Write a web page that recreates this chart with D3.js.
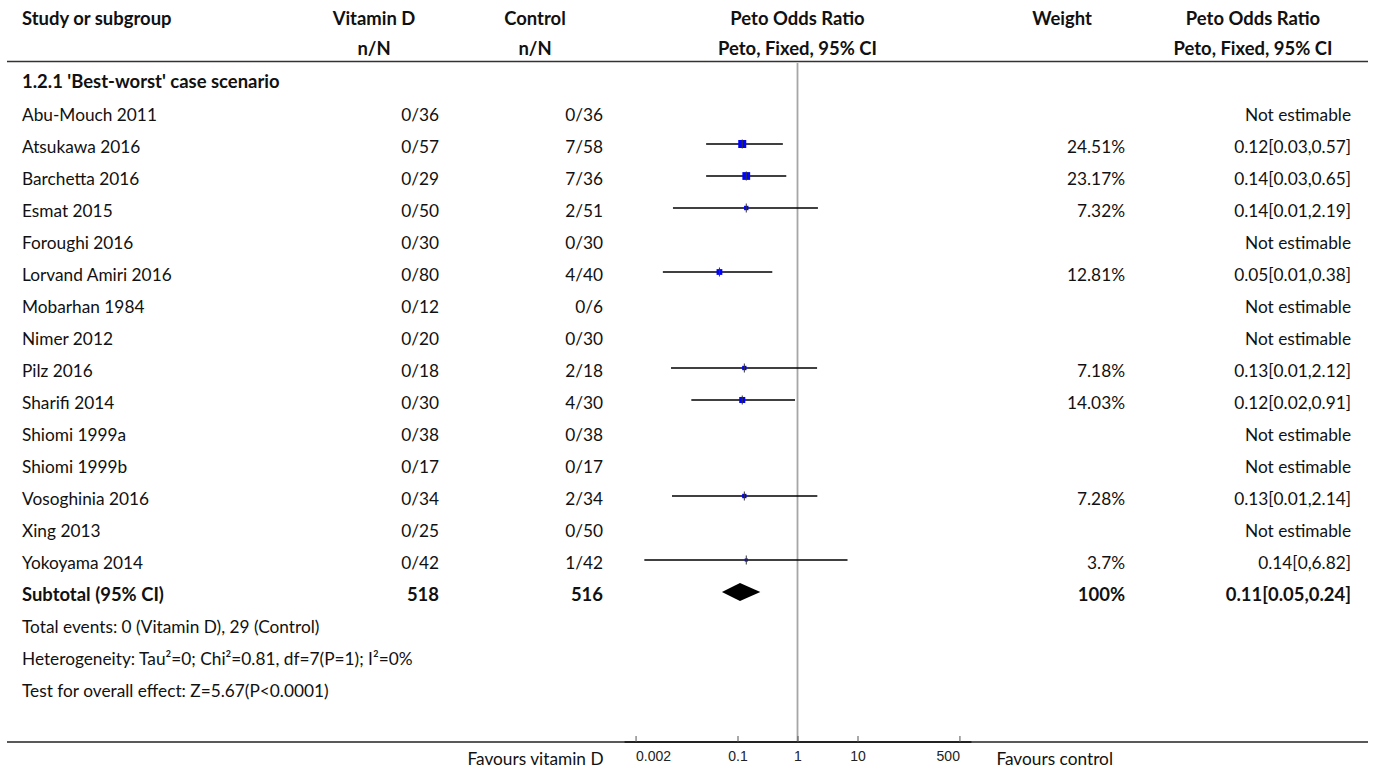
<!DOCTYPE html>
<html>
<head>
<meta charset="utf-8">
<script src="https://cdn.jsdelivr.net/npm/d3@7"></script>
<style>
  html, body { margin: 0; padding: 0; background: #fff; }
  svg { display: block; }
  text { font-family: Lato, "Noto Sans", sans-serif; fill: #111; }
</style>
</head>
<body>
<svg id="chart" width="1375" height="769"></svg>
<script>
// ---------------- DATA ----------------
const subgroupTitle = "1.2.1 'Best-worst' case scenario";
const studies = ["Abu-Mouch 2011","Atsukawa 2016","Barchetta 2016","Esmat 2015","Foroughi 2016",
  "Lorvand Amiri 2016","Mobarhan 1984","Nimer 2012","Pilz 2016","Sharifi 2014","Shiomi 1999a",
  "Shiomi 1999b","Vosoghinia 2016","Xing 2013","Yokoyama 2014"];
const vitaminD = ["0/36","0/57","0/29","0/50","0/30","0/80","0/12","0/20","0/18","0/30","0/38","0/17","0/34","0/25","0/42"];
const control  = ["0/36","7/58","7/36","2/51","0/30","4/40","0/6","0/30","2/18","4/30","0/38","0/17","2/34","0/50","1/42"];
const weights  = [null,24.51,23.17,7.32,null,12.81,null,null,7.18,14.03,null,null,7.28,null,3.7];
const oddsRatio = [null,0.12,0.14,0.14,null,0.05,null,null,0.13,0.12,null,null,0.13,null,0.14];
const ciLower   = [null,0.03,0.03,0.0084,null,0.0057,null,null,0.0078,0.017,null,null,0.0081,null,0.0028];
const ciUpper   = [null,0.57,0.65,2.19,null,0.38,null,null,2.12,0.91,null,null,2.14,null,6.82];
const effectLabels = ["Not estimable","0.12[0.03,0.57]","0.14[0.03,0.65]","0.14[0.01,2.19]","Not estimable",
  "0.05[0.01,0.38]","Not estimable","Not estimable","0.13[0.01,2.12]","0.12[0.02,0.91]","Not estimable",
  "Not estimable","0.13[0.01,2.14]","Not estimable","0.14[0,6.82]"];
const weightLabels = ["","24.51%","23.17%","7.32%","","12.81%","","","7.18%","14.03%","","","7.28%","","3.7%"];
const subtotal = ["Subtotal (95% CI)","518","516","100%","0.11[0.05,0.24]"];
const pooledCI = [0.055, 0.11, 0.24];   // lower, estimate, upper
const footnotes = ["Total events: 0 (Vitamin D), 29 (Control)",
  "Heterogeneity: Tau\u00B2=0; Chi\u00B2=0.81, df=7(P=1); I\u00B2=0%",
  "Test for overall effect: Z=5.67(P<0.0001)"];
const tickValues = [0.002, 0.1, 1, 10, 500];
const tickLabels = ["0.002","0.1","1","10","500"];
const axisDomain = [0.002, 500];
const favours = ["Favours vitamin D","Favours control"];

// ---------------- LAYOUT ----------------
const svg = d3.select("#chart");
const lineL = 7, lineR = 1368;
const col = { study: 22, vitCenter: 374, vitRight: 439, ctlCenter: 535, ctlRight: 603,
              plotCenter: 797.5, wCenter: 1062, wRight: 1125, orCenter: 1253, orRight: 1351 };
const decadePx = 60;
const half = decadePx * Math.log10(axisDomain[1]);
const x = d3.scaleLog().domain(axisDomain).range([col.plotCenter - half, col.plotCenter + half]);
const row0 = 112, rowH = 32;
const yRow = i => row0 + rowH * i;
const base = 8.5;
const sq = d3.scaleSqrt().domain([0, d3.max(weights)]).range([0, 8]);

// fit font sizes so text widths follow the reference
function measure(s, weight, size) {
  const t = svg.append("text").text(s).style("font-size", size + "px").style("font-weight", weight);
  const w = t.node().getComputedTextLength();
  t.remove();
  return w;
}
const regSize = Math.min(18, Math.max(14, 100 * 391 / measure(footnotes[1], 400, 100)));
const boldSize = Math.min(19, Math.max(14, 100 * 142 / measure(subtotal[0], 700, 100)));

function txt(xp, yp, s, anchor, bold) {
  return svg.append("text").attr("x", xp).attr("y", yp).text(s)
    .attr("text-anchor", anchor || "start")
    .style("font-size", (bold ? boldSize : regSize) + "px")
    .style("font-weight", bold ? "700" : "400");
}

// header
txt(col.study, 25, "Study or subgroup", "start", true);
txt(col.vitCenter, 25, "Vitamin D", "middle", true);
txt(col.vitCenter, 55, "n/N", "middle", true);
txt(col.ctlCenter, 25, "Control", "middle", true);
txt(col.ctlCenter, 55, "n/N", "middle", true);
txt(col.plotCenter, 25, "Peto Odds Ratio", "middle", true);
txt(col.plotCenter, 55, "Peto, Fixed, 95% CI", "middle", true);
txt(col.wCenter, 25, "Weight", "middle", true);
txt(col.orCenter, 25, "Peto Odds Ratio", "middle", true);
txt(col.orCenter, 55, "Peto, Fixed, 95% CI", "middle", true);

svg.append("line").attr("x1", lineL).attr("x2", lineR).attr("y1", 61.5).attr("y2", 61.5)
  .attr("stroke", "#333").attr("stroke-width", 1.6);

// reference line at OR = 1
svg.append("line").attr("x1", x(1)).attr("x2", x(1)).attr("y1", 63).attr("y2", 742)
  .attr("stroke", "#a6a6a6").attr("stroke-width", 1.8);

// subgroup title
txt(col.study, row0 - rowH + base - 1, subgroupTitle, "start", true);

// study rows
studies.forEach((s, i) => {
  const y = yRow(i);
  txt(col.study, y + base, s);
  txt(col.vitRight, y + base, vitaminD[i], "end");
  txt(col.ctlRight, y + base, control[i], "end");
  if (weightLabels[i]) txt(col.wRight, y + base, weightLabels[i], "end");
  txt(col.orRight, y + base, effectLabels[i], "end");
});

// CI lines and squares
const marks = svg.append("g");
studies.forEach((s, i) => {
  if (oddsRatio[i] == null) return;
  const y = yRow(i);
  marks.append("line").attr("x1", x(ciLower[i])).attr("x2", x(ciUpper[i]))
    .attr("y1", y).attr("y2", y).attr("stroke", "#000").attr("stroke-width", 1.3);
  const d = sq(weights[i]);
  marks.append("rect").attr("x", x(oddsRatio[i]) - d / 2).attr("y", y - d / 2)
    .attr("width", d).attr("height", d).attr("fill", "#0000ff");
  marks.append("line").attr("x1", x(oddsRatio[i])).attr("x2", x(oddsRatio[i]))
    .attr("y1", y - 4.5).attr("y2", y + 4.5).attr("stroke", "#333").attr("stroke-width", 1);
});

// subtotal
const ySub = yRow(studies.length);
txt(col.study, ySub + base, subtotal[0], "start", true);
txt(col.vitRight, ySub + base, subtotal[1], "end", true);
txt(col.ctlRight, ySub + base, subtotal[2], "end", true);
txt(col.wRight, ySub + base, subtotal[3], "end", true);
txt(col.orRight, ySub + base, subtotal[4], "end", true);
const dh = 9;
svg.append("path")
  .attr("d", `M${x(pooledCI[0])},${ySub} L${x(pooledCI[1])},${ySub - dh} L${x(pooledCI[2])},${ySub} L${x(pooledCI[1])},${ySub + dh} Z`)
  .attr("fill", "#000");

// footnotes
footnotes.forEach((f, k) => txt(col.study, yRow(studies.length + 1 + k) + base, f));

// bottom line and axis
const axisY = 742;
svg.append("line").attr("x1", lineL).attr("x2", lineR).attr("y1", axisY).attr("y2", axisY)
  .attr("stroke", "#222").attr("stroke-width", 1.4);
svg.append("line").attr("x1", x(axisDomain[0]) - 11).attr("x2", x(axisDomain[1]) + 12)
  .attr("y1", axisY).attr("y2", axisY).attr("stroke", "#222").attr("stroke-width", 2);

const axis = d3.axisBottom(x).tickValues(tickValues).tickFormat((d, i) => tickLabels[i])
  .tickSizeInner(-6).tickSizeOuter(0).tickPadding(9);
const ag = svg.append("g").attr("transform", `translate(0,${axisY})`).call(axis);
ag.select(".domain").remove();
ag.selectAll(".tick line").attr("stroke", "#555");
const nT = tickValues.length;
ag.selectAll(".tick text").style("font-family", "'Liberation Sans', Arial, sans-serif")
  .style("font-size", "14px").style("fill", "#222")
  .attr("text-anchor", (d, i) => i === 0 ? "start" : (i === nT - 1 ? "end" : "middle"));

txt(col.plotCenter - half - 32, 765, favours[0], "end");
txt(col.plotCenter + half + 37, 765, favours[1], "start");
</script>
</body>
</html>
